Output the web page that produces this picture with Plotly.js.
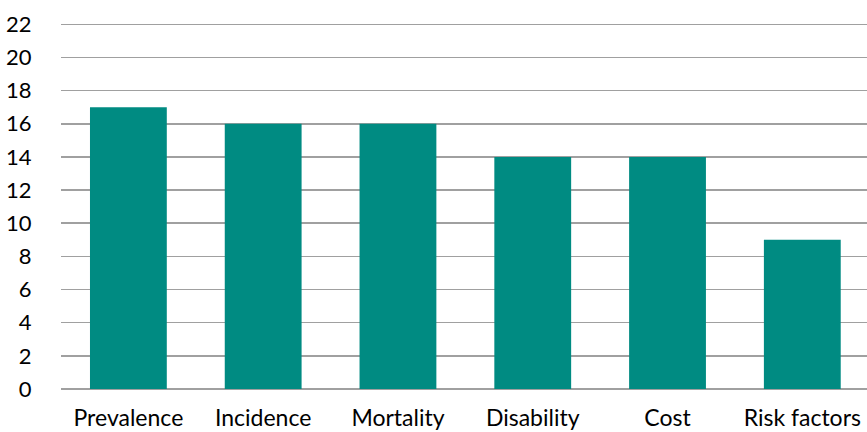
<!DOCTYPE html>
<html>
<head>
<meta charset="utf-8">
<script src="https://cdn.plot.ly/plotly-3.0.1.min.js"></script>
<style>html,body{margin:0;padding:0;background:#fff;}#chart{width:867px;height:432px;}</style>
</head>
<body>
<div id="chart"></div>
<script>
const categories = ["Prevalence", "Incidence", "Mortality", "Disability", "Cost", "Risk factors"];
const values = [17, 16, 16, 14, 14, 9];
const yTicks = [0, 2, 4, 6, 8, 10, 12, 14, 16, 18, 20, 22];

const trace = {
  type: "bar",
  x: categories,
  y: values,
  width: 0.57,
  marker: { color: "#008B82" },
  hoverinfo: "x+y"
};

const layout = {
  width: 867,
  height: 432,
  margin: { l: 61, r: 0, t: 21, b: 43 },
  paper_bgcolor: "#ffffff",
  plot_bgcolor: "#ffffff",
  showlegend: false,
  font: { family: "Lato, sans-serif", color: "#000000", size: 22 },
  xaxis: {
    range: [-0.5, 5.48],
    showgrid: false,
    showline: false,
    zeroline: false,
    ticks: "outside",
    ticklen: 8,
    tickcolor: "rgba(0,0,0,0)",
    tickfont: { size: 23, family: "Lato, sans-serif", color: "#000" }
  },
  yaxis: {
    range: [0, 22.2],
    tickvals: yTicks,
    ticktext: yTicks.map(String),
    showgrid: true,
    gridcolor: "#a0a0a0",
    gridwidth: 1.5,
    zeroline: true,
    zerolinecolor: "#a0a0a0",
    zerolinewidth: 1.5,
    showline: false,
    ticks: "outside",
    ticklen: 24,
    tickcolor: "rgba(0,0,0,0)",
    tickfont: { size: 22, family: "Lato, sans-serif", color: "#000" }
  }
};

Plotly.newPlot("chart", [trace], layout, { staticPlot: true, displayModeBar: false });
</script>
</body>
</html>
